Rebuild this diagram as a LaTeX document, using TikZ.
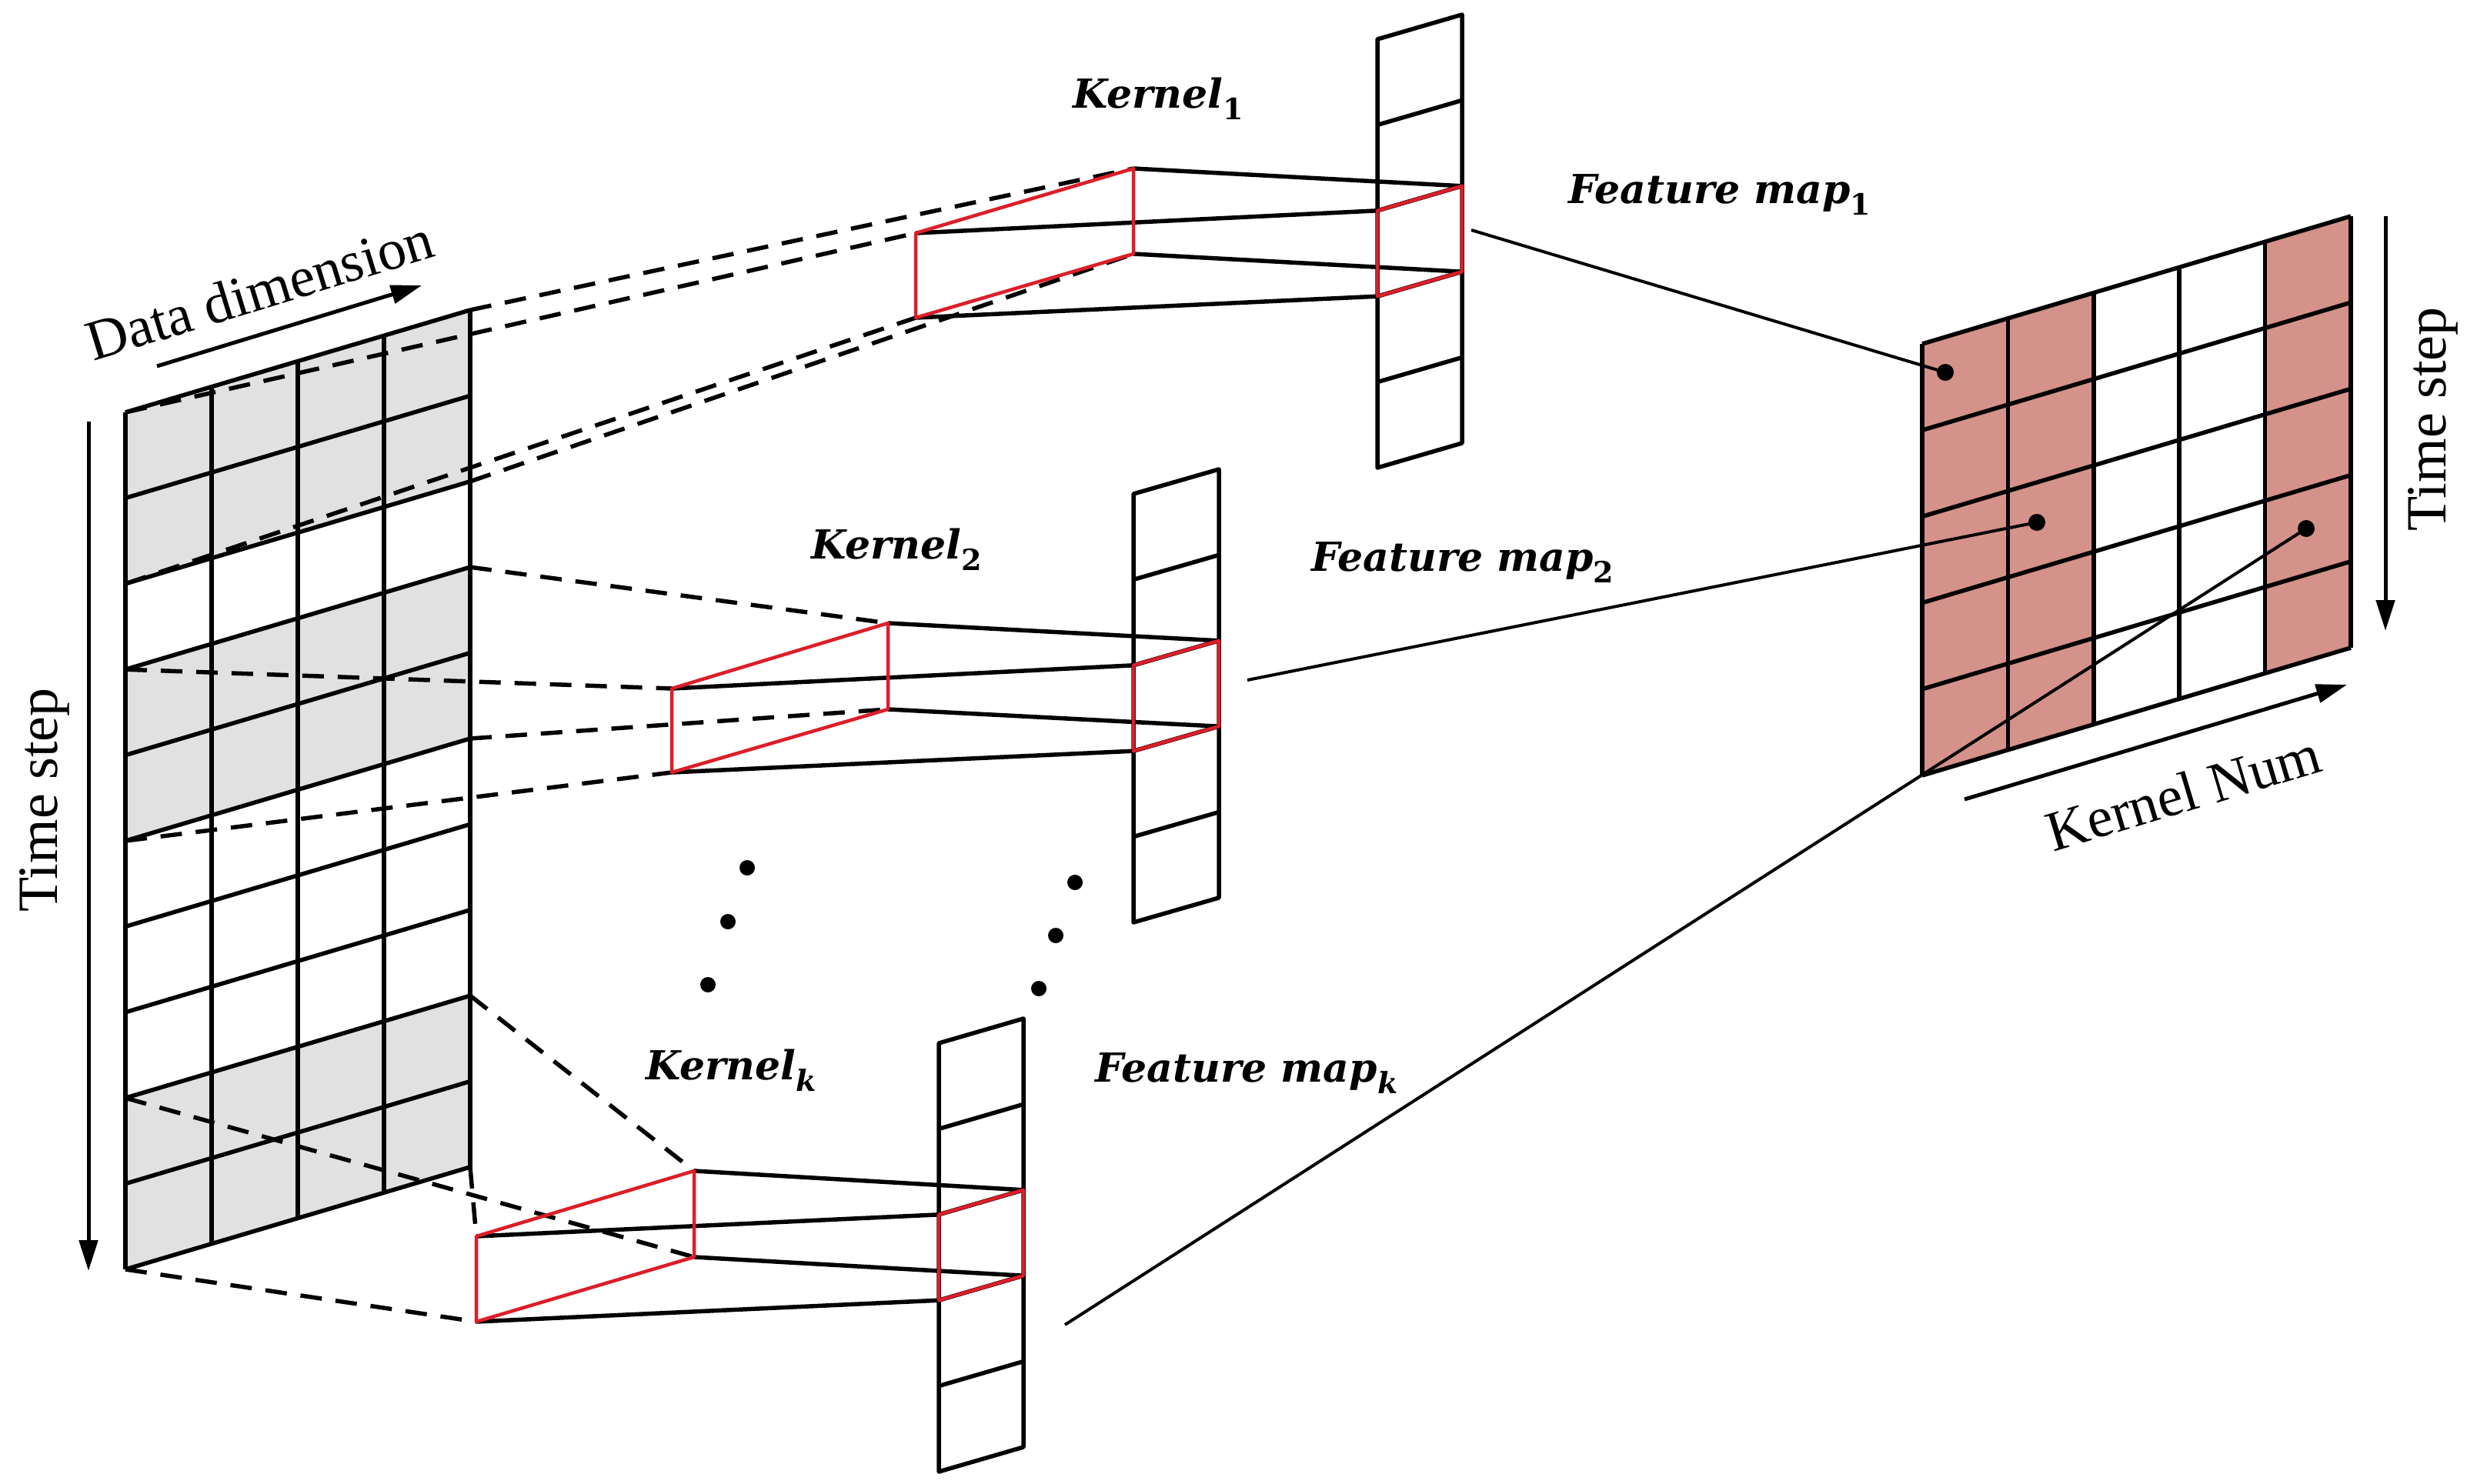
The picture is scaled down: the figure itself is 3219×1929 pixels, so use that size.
\documentclass[tikz,border=0pt]{standalone}
\usepackage{fontspec}
\setmainfont{Liberation Serif}
\newfontfamily\kfont{DejaVu Serif}
\usetikzlibrary{arrows.meta}
\definecolor{kred}{RGB}{220,30,40}
\definecolor{lgray}{RGB}{224,225,224}
\definecolor{pinkc}{RGB}{212,146,138}
\newcommand\subs[1]{\raisebox{-0.28em}{\fontsize{38}{40}\selectfont\bfseries\upshape #1}}
\tikzset{
 ln/.style={line width=5.5pt, line join=round},
 dsh/.style={line width=5.5pt, dash pattern=on 28pt off 18pt},
 kr/.style={line width=4.5pt, color=kred, line join=round},
 arr/.style={line width=5pt, -{Triangle[length=40pt,width=24pt]}},
 lab/.style={font=\fontsize{74}{80}\selectfont, inner sep=0pt},
 klab/.style={font=\kfont\fontsize{52}{58}\selectfont\bfseries\itshape, inner sep=0pt},
}
\newcommand\fmcol[4]{%
 \draw[ln] (#1,#3) -- (#2,#3-32) -- (#2,#3-32+5*111.4) -- (#1,#3+5*111.4) -- cycle;
 \foreach \k in {1,...,4} \draw[ln] (#1,#3+\k*111.4) -- (#2,#3+\k*111.4-32);
 \coordinate (#4lt) at (#1,#3+2*111.4);
 \coordinate (#4rt) at (#2,#3+2*111.4-32);
 \coordinate (#4rb) at (#2,#3+3*111.4-32);
 \coordinate (#4lb) at (#1,#3+3*111.4);
}
\newcommand\kbox[9]{%
 \coordinate (#1a) at (#2,#3);
 \coordinate (#1b) at (#4,#5);
 \coordinate (#1c) at (#6,#7);
 \coordinate (#1d) at (#8,#9);
}
\begin{document}
\begin{tikzpicture}[x=1pt,y=-1pt]
\useasboundingbox (0,0) rectangle (3219,1929);
% ---------- left input grid ----------
\foreach \r in {0,3,8}{
 \fill[lgray] (163,536+\r*111.4) -- (611,536+\r*111.4-133) -- (611,536+\r*111.4+222.8-133) -- (163,536+\r*111.4+222.8) -- cycle;
}
\foreach \j in {0,...,10} \draw[ln] (163,536+\j*111.4) -- (611,536+\j*111.4-133);
\foreach \i in {0,...,4} \draw[ln] (163+\i*112,536-\i*33.25) -- (163+\i*112,1650-\i*33.25);
\coordinate (g0) at (163,536); \coordinate (g0r) at (611,403);
\coordinate (g2) at (163,758.8); \coordinate (g2r) at (611,625.8);
\coordinate (g3) at (163,870.2); \coordinate (g3r) at (611,737.2);
\coordinate (g5) at (163,1093); \coordinate (g5r) at (611,960);
\coordinate (g8) at (163,1427.2); \coordinate (g8r) at (611,1294.2);
\coordinate (g10) at (163,1650); \coordinate (g10r) at (611,1517);
% axis arrows
\coordinate (ts1) at (115,548); \coordinate (ts2) at (115,1652);
\draw[arr] (ts1) -- (ts2);
\node[lab, rotate=90] (tslab) at (58,1040) {Time step};
\coordinate (dd1) at (204,476); \coordinate (dd2) at (548,371);
\draw[arr] (dd1) -- (dd2);
\node[lab, rotate=17, anchor=south] (ddlab) at (345,402) {Data dimension};
% ---------- feature map columns ----------
\fmcol{1790}{1900}{51}{f1}
\fmcol{1473}{1584}{642}{f2}
\fmcol{1220}{1330}{1356}{fk}
% ---------- kernel boxes ----------
\kbox{k1}{1190}{303}{1473}{219}{1473}{330}{1190}{413}
\kbox{k2}{873}{895}{1154}{810}{1154}{922}{873}{1004}
\kbox{kk}{619}{1607}{902}{1522}{902}{1634}{619}{1718}
% dashed projections
\draw[dsh] (g0r) -- (k1b); \draw[dsh] (g0) -- (k1a);
\draw[dsh] (g2r) -- (k1c); \draw[dsh] (g2) -- (k1d);
\draw[dsh] (g3r) -- (k2b); \draw[dsh] (g3) -- (k2a);
\draw[dsh] (g5r) -- (k2c); \draw[dsh] (g5) -- (k2d);
\draw[dsh] (g8r) -- (kkb); \draw[dsh] (g8) -- (kkc);
\draw[dsh] (g10r) -- (kka); \draw[dsh] (g10) -- (kkd);
% solid connections kernel -> feature map
\foreach \k/\f in {k1/f1,k2/f2,kk/fk}{
 \draw[ln] (\k b) -- (\f rt);
 \draw[ln] (\k a) -- (\f lt);
 \draw[ln] (\k c) -- (\f rb);
 \draw[ln] (\k d) -- (\f lb);
 \draw[kr] (\k a) -- (\k b) -- (\k c) -- (\k d) -- cycle;
 \draw[kr] (\f lt) -- (\f rt) -- (\f rb) -- (\f lb) -- cycle;
}
% dots
\foreach \p in {(971,1128),(946,1198),(920,1280),(1397,1147),(1372,1216),(1350,1285)}
 \fill \p circle (10);
% ---------- right output grid ----------
\foreach \c in {0,1,4}{
 \fill[pinkc] (2498+\c*111.4,447-\c*33.2) -- (2609.4+\c*111.4,447-\c*33.2-33.2) -- (2609.4+\c*111.4,1008-\c*33.2-33.2) -- (2498+\c*111.4,1008-\c*33.2) -- cycle;
}
\foreach \j in {0,...,5} \draw[ln] (2498,447+\j*112.2) -- (3055,447+\j*112.2-166);
\foreach \i in {0,...,5} \draw[ln] (2498+\i*111.4,447-\i*33.2) -- (2498+\i*111.4,1008-\i*33.2);
\coordinate (d1) at (2528,484); \coordinate (d2) at (2647,679); \coordinate (d3) at (2997,687);
\foreach \d in {d1,d2,d3} \fill (\d) circle (11);
\coordinate (o1) at (1912,299); \coordinate (o2) at (1621,884); \coordinate (o3) at (1384,1722);
\draw[line width=4pt] (o1) -- (d1);
\draw[line width=4pt] (o2) -- (d2);
\draw[line width=4pt] (o3) -- (d3);
\coordinate (rt1) at (3100,281); \coordinate (rt2) at (3100,820);
\draw[arr] (rt1) -- (rt2);
\node[lab, rotate=90] (rtlab) at (3162,545) {Time step};
\coordinate (kn1) at (2553,1039); \coordinate (kn2) at (3050,890);
\draw[arr] (kn1) -- (kn2);
\node[lab, rotate=16.7, anchor=north] (knlab) at (2830,1005) {Kernel Num};
% ---------- labels ----------
\node[klab] (lk1) at (1505,128) {Kernel\subs{1}};
\node[klab] (lf1) at (2235,253) {Feature map\subs{1}};
\node[klab] (lk2) at (1165,714) {Kernel\subs{2}};
\node[klab] (lf2) at (1901,731) {Feature map\subs{2}};
\node[klab] (lkk) at (950,1391) {Kernel\subs{\itshape k}};
\node[klab] (lfk) at (1620,1395) {Feature map\subs{\itshape k}};
\end{tikzpicture}
\end{document}
